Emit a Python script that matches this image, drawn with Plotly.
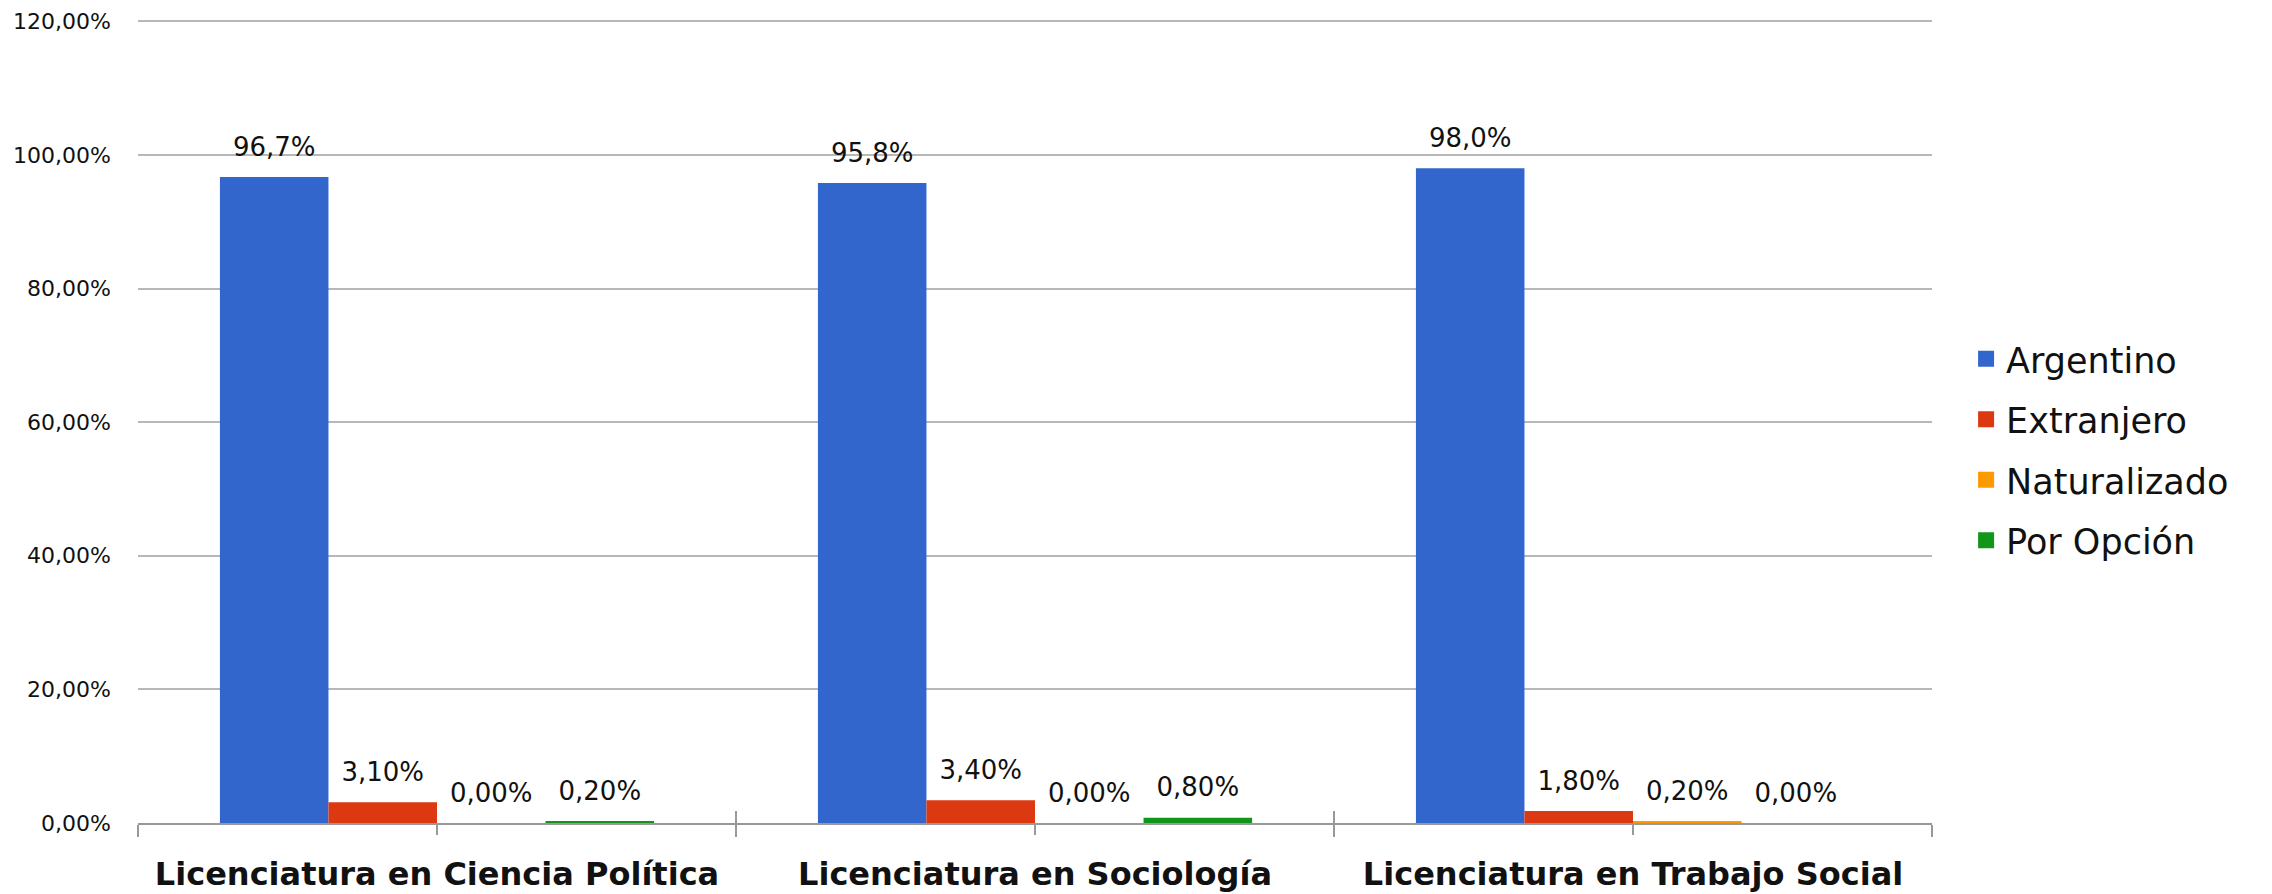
import plotly.graph_objects as go

categories = ["Licenciatura en Ciencia Política", "Licenciatura en Sociología", "Licenciatura en Trabajo Social"]
series_names = ["Argentino", "Extranjero", "Naturalizado", "Por Opción"]
argentino = [96.7, 95.8, 98.0]
extranjero = [3.1, 3.4, 1.8]
naturalizado = [0.0, 0.0, 0.2]
por_opcion = [0.2, 0.8, 0.0]
colors = ["#3366CC", "#DC3912", "#FF9900", "#109618"]
label_formats = ["%{y:.1f}%", "%{y:.2f}%", "%{y:.2f}%", "%{y:.2f}%"]
y_ticks = [0, 20, 40, 60, 80, 100, 120]
y_tick_labels = ["0,00%", "20,00%", "40,00%", "60,00%", "80,00%", "100,00%", "120,00%"]

FONT = "DejaVu Sans"
xpos = list(range(len(categories)))
boundaries = [i - 0.5 for i in range(len(categories) + 1)]
series_values = [argentino, extranjero, naturalizado, por_opcion]

fig = go.Figure()
# bars
for name, vals, col in zip(series_names, series_values, colors):
    fig.add_trace(go.Bar(
        name=name, x=xpos, y=vals, marker=dict(color=col, line=dict(width=0)),
        showlegend=False, hoverinfo="skip",
    ))
# value labels, grouped like the bars
for name, vals, fmt in zip(series_names, series_values, label_formats):
    fig.add_trace(go.Scatter(
        x=xpos, y=vals, mode="markers+text", orientation="v",
        offsetgroup=name, alignmentgroup="labels",
        marker=dict(size=22, opacity=0),
        texttemplate=fmt, textposition="top center", cliponaxis=False,
        textfont=dict(family=FONT, size=26, color="#111111"),
        showlegend=False, hoverinfo="skip",
    ))
# legend entries
for name, col in zip(series_names, colors):
    fig.add_trace(go.Scatter(
        x=[None], y=[None], mode="markers", name=name, xaxis="x2",
        marker=dict(symbol="square", size=16, color=col),
        legendgroup=name,
    ))

fig.update_layout(
    width=2272, height=894,
    margin=dict(l=130, r=348, t=12, b=79),
    paper_bgcolor="white", plot_bgcolor="white",
    barmode="group", bargap=0.274, bargroupgap=0,
    scattermode="group", scattergap=0.274,
    separators=",.",
    font=dict(family=FONT, color="#111111"),
    legend=dict(
        x=1.019, y=0.465, xanchor="left", yanchor="middle",
        font=dict(family=FONT, size=35, color="#111111"),
        tracegroupgap=12, traceorder="grouped",
    ),
    xaxis=dict(
        range=[-0.5, len(categories) - 0.5], automargin=False,
        tickmode="array", tickvals=xpos, ticktext=categories,
        tickfont=dict(family=FONT, size=32, color="#111111", weight="bold"),
        ticks="outside", ticklen=10, tickwidth=2, tickcolor="#999999",
        ticklabelstandoff=12,
        showline=True, linecolor="#999999", linewidth=2,
        showgrid=False, zeroline=False,
        minor=dict(tickmode="array", tickvals=boundaries, ticks="outside", ticklen=12, tickwidth=2, tickcolor="#999999", showgrid=False),
    ),
    xaxis2=dict(
        overlaying="x", side="bottom", range=[-0.5, len(categories) - 0.5],
        tickmode="array", tickvals=boundaries, showticklabels=False, automargin=False,
        ticks="inside", ticklen=12, tickwidth=2, tickcolor="#999999",
        showline=False, showgrid=False, zeroline=False,
    ),
    yaxis=dict(
        range=[0, 120.2], tickmode="array", tickvals=y_ticks, ticktext=y_tick_labels,
        automargin=False,
        tickfont=dict(family=FONT, size=22, color="#111111"),
        showgrid=True, gridcolor="#b8b8b8", gridwidth=2,
        zeroline=False, showline=False, ticks="", ticklabelstandoff=26,
    ),
)

fig.write_html("out.html")
